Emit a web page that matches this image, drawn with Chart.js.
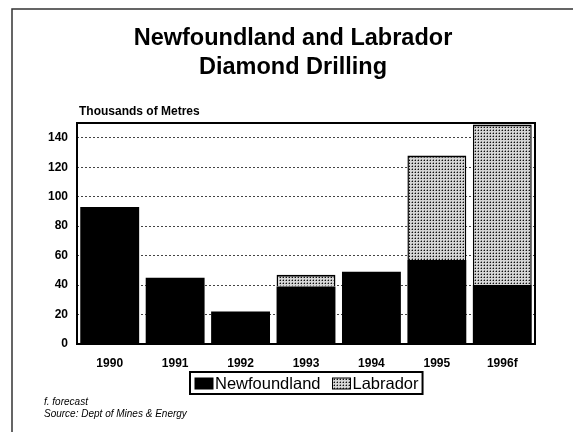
<!DOCTYPE html>
<html>
<head>
<meta charset="utf-8">
<script src="https://cdn.jsdelivr.net/npm/chart.js@4/dist/chart.umd.min.js"></script>
<style>
  html, body { margin: 0; padding: 0; background: #fff; }
  #wrap { width: 573px; height: 432px; position: relative; }
</style>
</head>
<body>
<div id="wrap"><canvas id="grafiek" width="573" height="432"></canvas></div>
<script>
// data (thousands of metres)
const jaren = ['1990', '1991', '1992', '1993', '1994', '1995', '1996f'];
const newfoundland = [93, 45, 22, 39, 49, 57, 40];
const labrador = [null, null, null, 8, null, 71, 109];
const yTicks = [0, 20, 40, 60, 80, 100, 120, 140];
const yMax = 150;

// dotted fill for Labrador
function maakPatroon() {
    const c = document.createElement('canvas');
    c.width = 3; c.height = 3;
    const g = c.getContext('2d');
    g.fillStyle = '#d6d6d6';
    g.fillRect(0, 0, 3, 3);
    g.fillStyle = '#111';
    g.fillRect(1, 1, 1, 1);
    g.fillStyle = '#8a8a8a';
    g.fillRect(0, 1, 1, 1);
    g.fillRect(1, 0, 1, 1);
    return g.createPattern(c, 'repeat');
}
const patroon = maakPatroon();

// title, axis caption, footnotes, frames and legend
const extraTekst = {
    id: 'extraTekst',
    afterDraw(chart) {
        const ctx = chart.ctx;
        const a = chart.chartArea;
        ctx.save();

        // slide frame
        ctx.strokeStyle = '#333';
        ctx.lineWidth = 1.5;
        ctx.beginPath();
        ctx.moveTo(12, 432);
        ctx.lineTo(12, 9);
        ctx.lineTo(573, 9);
        ctx.stroke();

        // plot frame
        ctx.strokeStyle = '#000';
        ctx.lineWidth = 2;
        ctx.strokeRect(a.left, a.top, a.right - a.left, a.bottom - a.top);

        ctx.fillStyle = '#000';
        ctx.textAlign = 'center';
        ctx.textBaseline = 'middle';
        ctx.font = 'bold 23.5px "Liberation Sans", Arial, sans-serif';
        ctx.fillText('Newfoundland and Labrador', 293, 39);
        ctx.fillText('Diamond Drilling', 293, 68);

        ctx.textAlign = 'left';
        ctx.font = 'bold 12px "Liberation Sans", Arial, sans-serif';
        ctx.fillText('Thousands of Metres', 79, 112);

        ctx.font = 'italic 10px "Liberation Sans", Arial, sans-serif';
        ctx.fillText('f. forecast', 44, 402);
        ctx.fillText('Source: Dept of Mines & Energy', 44, 414);

        // legend
        const ds = chart.data.datasets;
        ctx.font = '16.5px "Liberation Sans", Arial, sans-serif';
        let x = 195;
        const yMid = 383;
        const items = [];
        ds.forEach(d => {
            items.push({ x: x, d: d });
            x += 18 + 2 + ctx.measureText(d.label).width + 12;
        });
        const breedte = x - 12 + 4 - 190;
        ctx.lineWidth = 2;
        ctx.strokeStyle = '#000';
        ctx.strokeRect(190, 372, breedte, 22);
        items.forEach(it => {
            ctx.fillStyle = it.d.backgroundColor;
            ctx.fillRect(it.x, yMid - 5, 18, 11);
            ctx.lineWidth = 1;
            ctx.strokeStyle = '#000';
            ctx.strokeRect(it.x, yMid - 5, 18, 11);
            ctx.fillStyle = '#000';
            ctx.fillText(it.d.label, it.x + 20, yMid + 1);
        });
        ctx.restore();
    }
};

const ctx = document.getElementById('grafiek').getContext('2d');
new Chart(ctx, {
    type: 'bar',
    data: {
        labels: jaren,
        datasets: [{
            label: 'Newfoundland',
            data: newfoundland,
            backgroundColor: '#000',
            borderWidth: 0,
            barPercentage: 0.9,
            categoryPercentage: 1
        }, {
            label: 'Labrador',
            data: labrador,
            backgroundColor: patroon,
            borderColor: '#000',
            borderWidth: { top: 2, left: 1.5, right: 1.5, bottom: 0 },
            borderSkipped: 'bottom',
            barPercentage: 0.9,
            categoryPercentage: 1
        }]
    },
    options: {
        responsive: false,
        animation: false,
        layout: { padding: { top: 123, right: 38, bottom: 62, left: 0 } },
        plugins: {
            legend: { display: false },
            title: { display: false },
            tooltip: { enabled: false }
        },
        scales: {
            x: {
                stacked: true,
                grid: { display: false },
                border: { display: false },
                ticks: {
                    color: '#000',
                    padding: 4,
                    font: { family: '"Liberation Sans", Arial, sans-serif', size: 12, weight: 'bold' }
                },
                afterFit(scale) { scale.height = 26; }
            },
            y: {
                stacked: true,
                min: 0,
                max: yMax,
                afterBuildTicks(scale) { scale.ticks = yTicks.map(v => ({ value: v })); },
                grid: {
                    color: '#444',
                    lineWidth: 1,
                    drawTicks: false
                },
                border: { display: false, dash: [2, 2] },
                ticks: {
                    color: '#000',
                    padding: 9,
                    font: { family: '"Liberation Sans", Arial, sans-serif', size: 12, weight: 'bold' }
                },
                afterFit(scale) { scale.width = 77; }
            }
        }
    },
    plugins: [extraTekst]
});
</script>
</body>
</html>
